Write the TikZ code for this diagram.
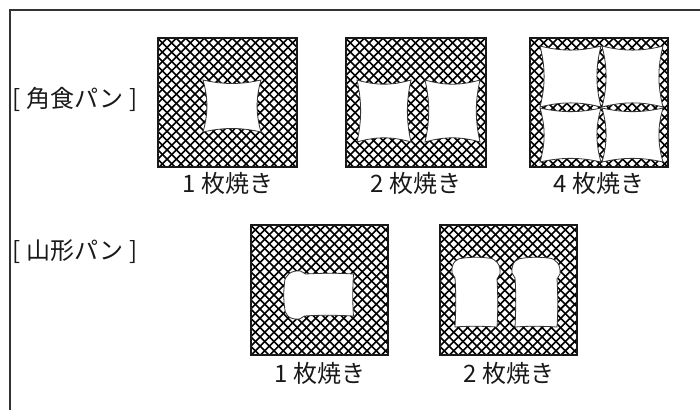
\documentclass[tikz,border=0pt]{standalone}
\usepackage{fontspec}
\usepackage{tikz}
\newfontfamily\jpfont{Noto Sans CJK JP}
\newcommand{\gap}{\hspace{.26em}}

% cross-hatched toaster area with a thick rim
\newcommand{\hatchbox}[4]{%
  \begin{scope}
    \clip (#1,#2) rectangle (#3,#4);
    \foreach \i in {0,...,32}
      \draw[hatch] (#1-140+\i*9.3,#2) -- ++(140,140)
                   (#1+\i*9.3,#2) -- ++(-140,140);
  \end{scope}
  \draw[rim] (#1,#2) rectangle (#3,#4)}

% square loaf slice, sides bent inwards
\newcommand{\kaku}[4]{%
  \filldraw[slice, shift={(#1,#2)}, xscale=#3, yscale=#4]
    (0,0) .. controls (.35,.09) and (.65,.09) .. (1,0)
          .. controls (.91,.35) and (.91,.65) .. (1,1)
          .. controls (.65,.91) and (.35,.91) .. (0,1)
          .. controls (.09,.65) and (.09,.35) .. cycle}

% mountain loaf slice, centred on (#1,#2), turned by #3
\newcommand{\yama}[3]{%
  \filldraw[slice, shift={(#1,#2)}, rotate=#3]
    (-24,-19) .. controls (-25,-30) and (-19,-34) .. (-12,-34)
              .. controls (-4,-35) and (4,-35) .. (12,-34)
              .. controls (20,-34) and (25,-27) .. (24,-18)
              -- (21,-13)
              .. controls (22,5) and (22,20) .. (21,35)
              .. controls (6,34) and (-9,34) .. (-21,35)
              .. controls (-20,15) and (-20,0) .. (-21,-14)
              -- cycle}

\begin{document}
\begin{tikzpicture}[x=1pt,y=-1pt,
    hatch/.style={line width=1.6pt, black},
    rim/.style={line width=2pt, black!90},
    slice/.style={fill=white, draw=black!80, line width=.8pt},
    lbl/.style={font=\jpfont\fontsize{24}{24}\selectfont, text=black!90, inner sep=0pt}]
  \useasboundingbox (0,0) rectangle (700,410);

  % frame
  \draw[line width=2pt, black!80] (10,410) -- (10,10) -- (700,10);

  % square loaf
  \node[lbl, anchor=west] (kaku) at (12,99) {[\gap{}角食パン\gap{}]};

  \hatchbox{158}{38}{297}{167};
  \kaku{203}{80}{58}{52};
  \node[lbl] (k1) at (228,183) {1\gap{}枚焼き};

  \hatchbox{346}{38}{486}{167};
  \kaku{357}{80}{54}{62};
  \kaku{425}{80}{55}{62};
  \node[lbl] (k2) at (416,183) {2\gap{}枚焼き};

  \hatchbox{530}{38}{668}{167};
  \kaku{540}{46}{61}{61};
  \kaku{602}{46}{61}{61};
  \kaku{540}{108}{61}{54};
  \kaku{602}{108}{61}{54};
  \node[lbl] (k4) at (599,183) {4\gap{}枚焼き};

  % mountain loaf
  \node[lbl, anchor=west] (yama) at (12,252) {[\gap{}山形パン\gap{}]};

  \hatchbox{251}{225}{388}{355};
  \yama{318.5}{295}{90};
  \node[lbl] (y1) at (320,373) {1\gap{}枚焼き};

  \hatchbox{440}{225}{577}{355};
  \yama{476}{292}{0};
  \yama{536}{292}{0};
  \node[lbl] (y2) at (509,373) {2\gap{}枚焼き};
\end{tikzpicture}
\end{document}
